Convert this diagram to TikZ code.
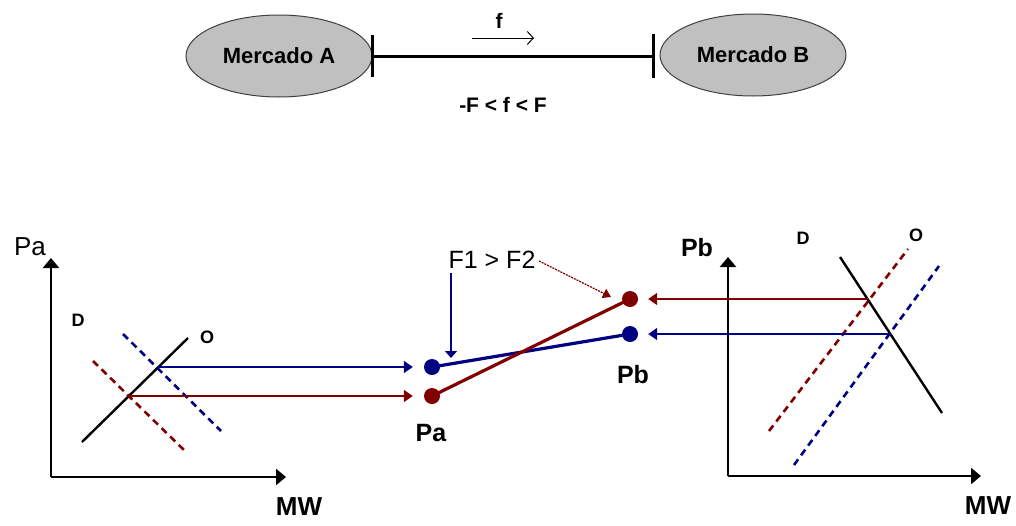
\documentclass[tikz,border=0pt]{standalone}
\usepackage{fontspec}
\setmainfont{Liberation Sans}
\usetikzlibrary{arrows.meta,shapes.geometric}
\definecolor{navyc}{RGB}{0,0,128}
\definecolor{maroonc}{RGB}{128,0,0}
\definecolor{mktgray}{RGB}{192,192,192}
\tikzset{
  market/.style={ellipse, fill=mktgray, draw=black!75, line width=1pt, minimum width=186pt, minimum height=82pt, inner sep=0pt, font=\fontsize{22}{25}\selectfont\bfseries},
  txt/.style={inner sep=0pt, font=\fontsize{#1}{#1}\selectfont\bfseries},
  txtr/.style={inner sep=0pt, font=\fontsize{#1}{#1}\selectfont},
  axis/.style={line width=2.4pt, -{Triangle[length=10pt,width=16pt]}},
  curve/.style={line width=2.4pt, black},
  ddash/.style={line width=2.6pt, dash pattern=on 7pt off 5pt},
  harrow/.style={line width=1.6pt, -{Triangle[length=9pt,width=12pt]}},
  dot/.style={circle, inner sep=0pt, minimum size=16pt},
  link/.style={line width=3.2pt},
}
\begin{document}
\begin{tikzpicture}[x=1pt,y=-1pt]
\useasboundingbox (0,0) rectangle (1016,525);
% ---------- top ----------
\node[market] (mA) at (279,56) {Mercado A};
\node[market] (mB) at (753,55) {Mercado B};
\coordinate (tA) at (372,56);
\coordinate (tB) at (653,56);
\draw[line width=3pt] (tA) -- (tB);
\draw[line width=3pt] ([yshift=-21pt]tA) -- ([yshift=21pt]tA);
\draw[line width=3pt] ([yshift=-22pt]tB) -- ([yshift=22pt]tB);
\coordinate (fa1) at (472,38);
\coordinate (fa2) at (534,38);
\draw[line width=1pt, -{Straight Barb[length=6pt,width=13pt]}] (fa1) -- (fa2);
\node[txt=21] (flab) at (499,21) {f};
\node[txt=21] (fcon) at (503,105) {-F < f < F};
% ---------- left chart ----------
\coordinate (oL) at (51,477);
\coordinate (yL) at (51,258);
\coordinate (xL) at (286,477);
\draw[axis] (oL) -- (yL);
\draw[axis] (oL) -- (xL);
\node[txtr=26] (paAx) at (30,247) {Pa};
\node[txt=26] (mwL) at (299,507) {MW};
\node[txt=18] (dL) at (78,320) {D};
\node[txt=18] (oLab) at (207,337) {O};
\coordinate (sL1) at (82,442);
\coordinate (sL2) at (188,338);
\draw[curve] (sL1) -- (sL2);
\coordinate (bdL1) at (123,334);
\coordinate (bdL2) at (221,431);
\draw[ddash, navyc] (bdL1) -- (bdL2);
\coordinate (rdL1) at (93,361);
\coordinate (rdL2) at (185,451);
\draw[ddash, maroonc] (rdL1) -- (rdL2);
\coordinate (iBL) at (158,367);
\coordinate (iRL) at (128,396);
% ---------- middle ----------
\node[dot, fill=navyc] (paB) at (432,367) {};
\node[dot, fill=maroonc] (paR) at (432,396) {};
\node[dot, fill=maroonc] (pbR) at (630,299) {};
\node[dot, fill=navyc] (pbB) at (630,334) {};
\draw[harrow, navyc, shorten >=11pt] (iBL) -- (paB);
\draw[harrow, maroonc, shorten >=11pt] (iRL) -- (paR);
\draw[link, navyc] (paB.center) -- (pbB.center);
\draw[link, maroonc] (paR.center) -- (pbR.center);
\node[txt=25] (paLab) at (431,433) {Pa};
\node[txt=25] (pbLab) at (633,375) {Pb};
\node[txtr=25] (f12) at (492,260) {F1 > F2};
\coordinate (fb1) at (451,273);
\coordinate (fb2) at (451,358);
\draw[line width=1.4pt, navyc, -{Triangle[length=7pt,width=12pt]}] (fb1) -- (fb2);
\coordinate (fr1) at (539,261);
\coordinate (fr2) at (611,297);
\draw[line width=1.3pt, maroonc, dash pattern=on 2pt off 1pt, -{Triangle[length=8pt,width=10pt]}] (fr1) -- (fr2);
% ---------- right chart ----------
\coordinate (oR) at (728,476);
\coordinate (yR) at (728,257);
\coordinate (xR) at (981,476);
\draw[axis] (oR) -- (yR);
\draw[axis] (oR) -- (xR);
\node[txt=25] (pbAx) at (697,248) {Pb};
\node[txt=26] (mwR) at (988,506) {MW};
\node[txt=18] (dR) at (803,238) {D};
\node[txt=18] (oRLab) at (916,235) {O};
\coordinate (dR1) at (840,257);
\coordinate (dR2) at (942,413);
\draw[curve] (dR1) -- (dR2);
\coordinate (rdR1) at (769,431);
\coordinate (rdR2) at (908,249);
\draw[ddash, maroonc] (rdR1) -- (rdR2);
\coordinate (bdR1) at (794,465);
\coordinate (bdR2) at (939,266);
\draw[ddash, navyc] (bdR1) -- (bdR2);
\coordinate (iRR) at (868,299);
\coordinate (iBR) at (891,334);
\draw[harrow, maroonc, shorten >=10pt] (iRR) -- (pbR);
\draw[harrow, navyc, shorten >=10pt] (iBR) -- (pbB);
\end{tikzpicture}
\end{document}
